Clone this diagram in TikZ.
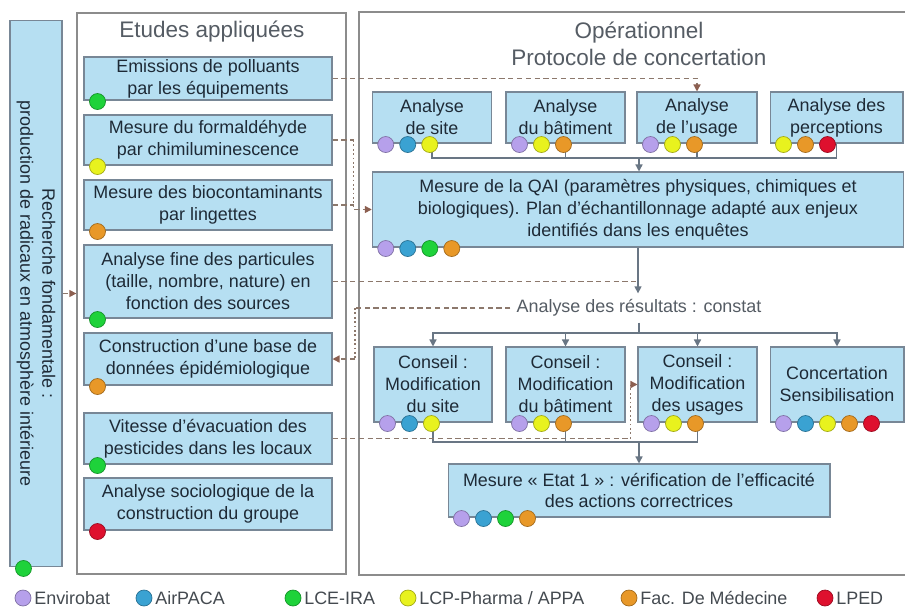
\documentclass[tikz,border=0pt]{standalone}
\usepackage{fontspec}
\setmainfont{Liberation Sans}
\usepackage{tikz}
\usetikzlibrary{arrows.meta}
\usetikzlibrary{positioning}
\usetikzlibrary{calc}

\definecolor{boxblue}{RGB}{182,223,242}
\definecolor{boxedge}{RGB}{120,135,150}
\definecolor{panelgray}{RGB}{140,140,140}
\definecolor{titlegray}{RGB}{85,92,100}
\definecolor{textdark}{RGB}{30,42,54}
\definecolor{connsolid}{RGB}{105,118,132}
\definecolor{conndash}{RGB}{140,120,108}
\definecolor{arrowbrown}{RGB}{140,95,80}
\definecolor{cEnv}{RGB}{182,160,235}
\definecolor{cAir}{RGB}{58,162,210}
\definecolor{cLce}{RGB}{30,210,58}
\definecolor{cLcp}{RGB}{232,242,30}
\definecolor{cFac}{RGB}{232,152,40}
\definecolor{cLped}{RGB}{222,16,46}

\newcommand{\boxfont}{\fontsize{10.2}{12.5}\selectfont}
\newcommand{\titlefont}{\fontsize{12.8}{15.3}\selectfont}

\tikzset{
  panel/.style={draw=panelgray, line width=0.8pt, fill=white, inner sep=0pt},
  boite/.style={draw=boxedge, line width=0.6pt, fill=boxblue, align=center,
    text=textdark, font=\boxfont, inner sep=0pt},
  titre/.style={text=titlegray, font=\titlefont, align=center},
  legende/.style={text=titlegray!80!black, font=\boxfont, inner sep=1pt},
  pastille/.style={circle, draw=#1!70!black, fill=#1, minimum size=0.32cm,
    inner sep=0pt, line width=0.4pt},
  conn/.style={draw=connsolid, line width=0.8pt},
  fleche/.style={-{Triangle[length=4pt,width=4pt]}},
  dashconn/.style={draw=conndash, line width=0.8pt, dash pattern=on 3pt off 2pt},
  dotconn/.style={draw=conndash, line width=0.8pt, dash pattern=on 1pt off 1.5pt},
  brownhead/.style={-{Triangle[length=4pt,width=4pt,color=arrowbrown]}}
}

% row of partner dots along the bottom edge of a box
\newcommand{\pastilles}[2]{%
  \foreach \col [count=\i] in {#2}
    \node[pastille=\col] (#1-p\i) at ($(#1.south west)+({22*\i-8},1)$) {};}

\begin{document}
\begin{tikzpicture}[x=0.02cm, y=-0.02cm]
        \useasboundingbox (0,0) rectangle (905,608);
        % panels
        \node[boite, minimum width=1.04cm, minimum height=10.94cm] (bar) at (36,293.5) {};
        \node[rotate=-90, align=center, text=textdark, font=\boxfont] (bartxt) at (bar.center) {Recherche fondamentale :\\production de radicaux en atmosphère intérieure};
        \node[panel, minimum width=5.38cm, minimum height=11.22cm] (etudes) at (211.5,293.5) {};
        \node[titre] (etudestitre) at (212,32) {Etudes appliquées};
        \node[panel, minimum width=11.2cm, minimum height=11.26cm] (oper) at (639,293.5) {};
        \node[titre] (opertitre) at (639,43.5) {Opérationnel\\Protocole de concertation};

        % etudes appliquees
        \node[boite, minimum width=4.96cm, minimum height=0.86cm] (e1) at (208,78.5) {Emissions de polluants\\par les équipements};
        \node[boite, minimum width=4.96cm, minimum height=1.0cm] (e2) at (208,140) {Mesure du formaldéhyde\\par chimiluminescence};
        \node[boite, minimum width=4.96cm, minimum height=1.0cm] (e3) at (208,205) {Mesure des biocontaminants\\par lingettes};
        \node[boite, minimum width=4.96cm, minimum height=1.46cm] (e4) at (208,281.5) {Analyse fine des particules\\(taille, nombre, nature) en\\fonction des sources};
        \node[boite, minimum width=4.96cm, minimum height=1.04cm] (e5) at (208,359) {Construction d'une base de\\données épidémiologique};
        \node[boite, minimum width=4.96cm, minimum height=1.02cm] (e6) at (208,438.5) {Vitesse d'évacuation des\\pesticides dans les locaux};
        \node[boite, minimum width=4.96cm, minimum height=1.04cm] (e7) at (208,504) {Analyse sociologique de la\\construction du groupe};

        % operationnel
        \node[boite, minimum width=2.39cm, minimum height=1.02cm] (a1) at (432,117.5) {Analyse\\de site};
        \node[boite, minimum width=2.38cm, minimum height=1.02cm] (b1) at (565.5,117.5) {Analyse\\du bâtiment};
        \node[boite, minimum width=2.40cm, minimum height=1.02cm] (c1) at (697,117.5) {Analyse\\de l'usage};
        \node[boite, minimum width=2.66cm, minimum height=1.02cm] (d1) at (836.5,117.5) {Analyse des\\perceptions};
        \node[boite, minimum width=10.63cm, minimum height=1.5cm] (qai) at (638,209.5) {Mesure de la QAI (paramètres physiques, chimiques et\\biologiques). Plan d'échantillonnage adapté aux enjeux\\identifiés dans les enquêtes};
        \node[text=titlegray, font=\boxfont] (constat) at (639,308) {Analyse des résultats : constat};
        \node[boite, minimum width=2.36cm, minimum height=1.5cm] (a2) at (433,384.5) {Conseil :\\Modification\\du site};
        \node[boite, minimum width=2.38cm, minimum height=1.5cm] (b2) at (565.5,384.5) {Conseil :\\Modification\\du bâtiment};
        \node[boite, minimum width=2.38cm, minimum height=1.5cm] (c2) at (697.5,384.5) {Conseil :\\Modification\\des usages};
        \node[boite, minimum width=2.68cm, minimum height=1.5cm] (d2) at (837,384.5) {Concertation\\Sensibilisation};
        \node[boite, minimum width=7.64cm, minimum height=1.06cm] (etat) at (639,490.5) {Mesure « Etat 1 » : vérification de l'efficacité\\des actions correctrices};

        % solid connectors
        \coordinate (j1) at (639,158);
        \foreach \n in {a1,b1,c1,d1}
          \draw[conn] (\n.south) |- (j1);
        \draw[conn,fleche] (j1) -- (j1 |- qai.north);
        \draw[conn,fleche] (qai.south) -- (qai.south |- constat.north);
        \coordinate (j2) at (639,333);
        \draw[conn] (constat.south) -- (j2);
        \foreach \n in {a2,b2,c2,d2}
          \draw[conn,fleche] (j2) -| (\n.north);
        \coordinate (j3) at (639,442);
        \foreach \n in {a2,b2,c2}
          \draw[conn] (\n.south) |- (j3);
        \draw[conn,fleche] (j3) -- (j3 |- etat.north);

        % dashed links between the panels
        \draw[dashconn,brownhead] (bar.east) -- (etudes.west);
        \draw[dashconn,brownhead] (e1.east) -| (c1.north);
        \draw[dashconn] (e2.east) -- ++(21,0) coordinate (k2);
        \draw[dotconn] (k2) -- ++(0,67);
        \draw[dashconn,brownhead] (e3.east) -- (e3.east -| k2) |- (qai.west);
        \draw[dashconn] (e4.east) -- (e4.east -| qai.south);
        \coordinate (k5) at (355,308);
        \draw[dashconn] (constat.west) -- (k5);
        \draw[dotconn] (k5) -- (k5 |- e5.east);
        \draw[dashconn,brownhead] (k5 |- e5.east) -- (e5.east);
        \draw[dashconn] (e6.east) -- ++(298,0) coordinate (k6);
        \draw[dotconn] (k6) -- (k6 |- c2.west);
        \draw[dashconn,brownhead] (k6 |- c2.west) -- (c2.west);

        % partners
        \pastilles{bar}{cLce}
        \pastilles{e1}{cLce}
        \pastilles{e2}{cLcp}
        \pastilles{e3}{cFac}
        \pastilles{e4}{cLce}
        \pastilles{e5}{cFac}
        \pastilles{e6}{cLce}
        \pastilles{e7}{cLped}
        \pastilles{a1}{cEnv,cAir,cLcp}
        \pastilles{b1}{cEnv,cLcp,cFac}
        \pastilles{c1}{cEnv,cLcp,cFac}
        \pastilles{d1}{cLcp,cFac,cLped}
        \pastilles{qai}{cEnv,cAir,cLce,cFac}
        \pastilles{a2}{cEnv,cAir,cLcp}
        \pastilles{b2}{cEnv,cLcp,cFac}
        \pastilles{c2}{cEnv,cLcp,cFac}
        \pastilles{d2}{cEnv,cAir,cLcp,cFac,cLped}
        \pastilles{etat}{cEnv,cAir,cLce,cFac}

        % legend
        \node[pastille=cEnv] (lg1) at (23,598) {};
        \node[legende, right=0.5pt of lg1] (lg1t) {Envirobat};
        \node[pastille=cAir] (lg2) at (144,598) {};
        \node[legende, right=0.5pt of lg2] (lg2t) {AirPACA};
        \node[pastille=cLce] (lg3) at (293,598) {};
        \node[legende, right=0.5pt of lg3] (lg3t) {LCE-IRA};
        \node[pastille=cLcp] (lg4) at (408,598) {};
        \node[legende, right=0.5pt of lg4] (lg4t) {LCP-Pharma / APPA};
        \node[pastille=cFac] (lg5) at (629,598) {};
        \node[legende, right=0.5pt of lg5] (lg5t) {Fac. De Médecine};
        \node[pastille=cLped] (lg6) at (825,598) {};
        \node[legende, right=0.5pt of lg6] (lg6t) {LPED};
      \end{tikzpicture}
\end{document}
